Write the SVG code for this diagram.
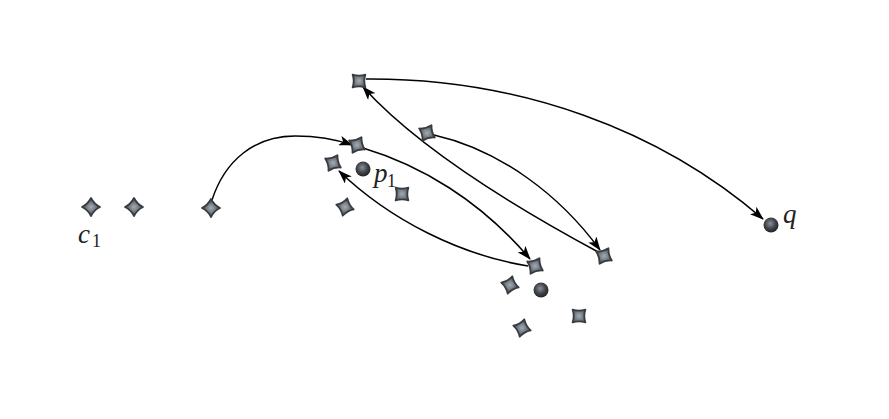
<svg xmlns="http://www.w3.org/2000/svg" width="889" height="419" viewBox="0 0 889 419">
<defs>
<radialGradient id="sg" cx="50%" cy="50%" r="50%"><stop offset="0" stop-color="#a3acb4"/><stop offset="0.55" stop-color="#6e757d"/><stop offset="1" stop-color="#3e4349"/></radialGradient>
<radialGradient id="dg" cx="45%" cy="40%" r="60%"><stop offset="0" stop-color="#8a9098"/><stop offset="0.6" stop-color="#3e4248"/><stop offset="1" stop-color="#222"/></radialGradient>
<path id="star" d="M0,-9 Q3,-3 9,0 Q3,3 0,9 Q-3,3 -9,0 Q-3,-3 0,-9Z" fill="url(#sg)" stroke="#383b40" stroke-width="1.8" stroke-linejoin="round"/>
<marker id="ah" viewBox="0 0 14 10" markerWidth="14" markerHeight="10" refX="13" refY="5" orient="auto" markerUnits="userSpaceOnUse"><path d="M0,0 L14,5 L0,10 L3.5,5 Z" fill="#000"/></marker>
</defs>
<style>
.c{fill:none;stroke:#000;stroke-width:1.5;marker-end:url(#ah)}
.lbl{font-family:"Liberation Serif",serif;font-style:italic;font-size:27px;fill:#222}
.sub{font-family:"Liberation Serif",serif;font-size:18px;fill:#222}
.dot{fill:url(#dg)}
</style>
<rect width="889" height="419" fill="#fff"/>
<g id="connectors">
<path class="c" d="M212,200 C225,160 255,136 295,136 C320,136 338,140 352,145"/>
<path class="c" d="M366,79 C520,78 660,130 763,219"/>
<path class="c" d="M600,253 C520,210 420,150 363,87"/>
<path class="c" d="M434,135 C500,150 560,195 600,250"/>
<path class="c" d="M363,148 C420,165 480,200 530,259"/>
<path class="c" d="M528,266 C460,255 390,220 339,171"/>
</g>
<g id="n1"><use href="#star" transform="translate(91,207)"/><text class="lbl" x="78" y="243">c</text><text class="sub" x="92" y="247">1</text></g>
<g id="n2"><use href="#star" transform="translate(134,207)"/></g>
<g id="n3"><use href="#star" transform="translate(211,208)"/></g>
<g id="n4"><use href="#star" transform="translate(359,81) rotate(45)"/></g>
<g id="n5"><use href="#star" transform="translate(357,145) rotate(30)"/></g>
<g id="n6"><use href="#star" transform="translate(333,163) rotate(30)"/></g>
<g id="p1"><circle class="dot" cx="363" cy="169" r="7.5"/><text class="lbl" x="374" y="182">p</text><text class="sub" x="387" y="187">1</text></g>
<g id="n7"><use href="#star" transform="translate(402,194) rotate(45)"/></g>
<g id="n8"><use href="#star" transform="translate(345,207) rotate(15)"/></g>
<g id="n9"><use href="#star" transform="translate(427,133) rotate(30)"/></g>
<g id="n10"><use href="#star" transform="translate(535,266) rotate(30)"/></g>
<g id="n11"><circle class="dot" cx="541" cy="290" r="7.5"/></g>
<g id="n12"><use href="#star" transform="translate(510,285) rotate(15)"/></g>
<g id="n13"><use href="#star" transform="translate(579,316) rotate(45)"/></g>
<g id="n14"><use href="#star" transform="translate(522,328) rotate(15)"/></g>
<g id="n15"><use href="#star" transform="translate(604,256) rotate(30)"/></g>
<g id="q"><circle class="dot" cx="771" cy="225" r="7.5"/><text class="lbl" x="783" y="223">q</text></g>
</svg>
